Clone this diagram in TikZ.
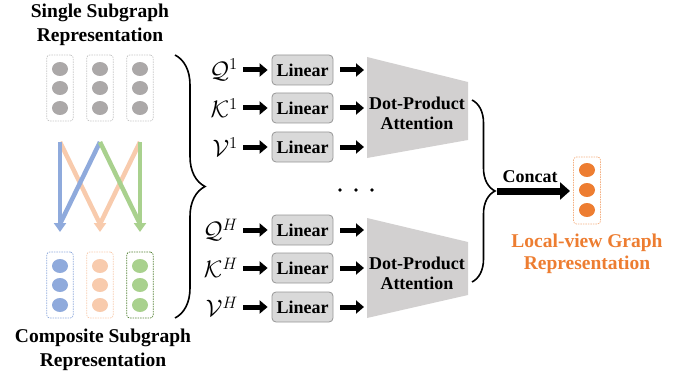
\documentclass[tikz,border=0pt]{standalone}
\usepackage{graphicx}
\usepackage{fontspec}
\setmainfont{Liberation Serif}
\usetikzlibrary{arrows.meta,decorations.pathreplacing,shapes.geometric}
\definecolor{cgray}{RGB}{171,168,168}
\definecolor{cblue}{RGB}{143,170,220}
\definecolor{corange}{RGB}{248,203,173}
\definecolor{cgreen}{RGB}{169,209,142}
\definecolor{cdgreen}{RGB}{84,130,53}
\definecolor{cout}{RGB}{237,125,49}
\definecolor{coutl}{RGB}{244,177,131}
\definecolor{trap}{RGB}{210,208,208}
\definecolor{linfill}{RGB}{217,217,217}
\definecolor{lindraw}{RGB}{150,150,150}
\newcommand{\mlab}[1]{\scalebox{1.15}{$#1$}}
\begin{document}
\begin{tikzpicture}[x=1pt,y=-1pt,
  title/.style={font=\fontsize{19.5}{23}\selectfont\bfseries, anchor=base, inner sep=0pt},
  lbl/.style={font=\fontsize{18}{21}\selectfont\bfseries, anchor=base, inner sep=0pt},
  mathlbl/.style={font=\fontsize{20.74}{25}\selectfont, anchor=east, inner sep=0pt},
  linbox/.style={draw=lindraw, line width=0.8pt, fill=linfill, rounded corners=4pt, minimum width=61pt, minimum height=30pt, inner sep=0pt, font=\fontsize{18}{21}\selectfont\bfseries},
  dotc/.style={ellipse, minimum width=16pt, minimum height=14pt, inner sep=0pt},
  col/.style={rounded corners=3pt, line width=0.7pt, dash pattern=on 1.5pt off 1pt, minimum width=26.5pt, minimum height=66pt, inner sep=0pt},
  bigarrow/.style={line width=5pt, -{Triangle[length=8pt,width=13pt]}},
  flowline/.style={line width=4.5pt},
  flowarrow/.style={line width=4.5pt, -{Triangle[length=9pt,width=12pt]}},
  bracestyle/.style={line width=1.6pt, decorate},
]
\useasboundingbox (0,0) rectangle (693,377);

% titles
\node[title] (t1a) at (100,18) {Single Subgraph};
\node[title] (t1b) at (100,42) {Representation};
\node[title] (t2a) at (103,342) {Composite Subgraph};
\node[title] (t2b) at (103,366) {Representation};

% top columns
\foreach \i/\x in {1/60,2/100,3/140}{
  \node[col, draw=gray!45] (top\i) at (\x,88) {};
  \foreach \j/\y in {1/69,2/88,3/108}{
    \node[dotc, fill=cgray] (tp\i\j) at (\x,\y) {};
  }
}
% bottom columns
\node[col, draw=cblue] (bot1) at (60,285) {};
\node[col, draw=corange] (bot2) at (100,285) {};
\node[col, draw=cdgreen] (bot3) at (140,285) {};
\foreach \j/\y in {1/266,2/285,3/305}{
  \node[dotc, fill=cblue] (bp1\j) at (60,\y) {};
  \node[dotc, fill=corange] (bp2\j) at (100,\y) {};
  \node[dotc, fill=cgreen] (bp3\j) at (140,\y) {};
}

% flow arrows
\coordinate (s1) at (60,142);
\coordinate (s2) at (100,142);
\coordinate (s3) at (140,142);
\coordinate (e1) at (60,232);
\coordinate (e2) at (100,232);
\coordinate (e3) at (140,232);
\coordinate (m1) at (60,224);
\coordinate (m2) at (100,224);
\coordinate (m3) at (140,224);
\draw[flowline, corange] (s1) -- (m2);
\draw[flowline, corange] (s3) -- (m2);
\draw[flowarrow, corange] (100,221) -- (e2);
\draw[flowarrow, cblue] (s1) -- (e1);
\draw[flowline, cblue] (s2) -- (m1);
\draw[flowline, cgreen] (s2) -- (m3);
\draw[flowarrow, cgreen] (s3) -- (e3);

% left brace
\coordinate (bra) at (175,55);
\coordinate (brb) at (175,318);
\draw[bracestyle, decoration={brace, amplitude=30pt}] (bra) -- (brb);

% rows
\foreach \r/\y/\sym/\sup in {a/70/Q/1, b/108/K/1, c/147/V/1, d/230/Q/H, e/268/K/H, f/307/V/H}{
  \node[mathlbl] (in\r) at (238,\y) {\mlab{\mathcal{\sym}^{\sup}}};
  \node[linbox] (lin\r) at (302.5,\y) {Linear};
  \coordinate (tr\r) at (364,\y);
  \draw[bigarrow] ([xshift=5pt]in\r.east) -- ([xshift=-4pt]lin\r.west);
  \draw[bigarrow] ([xshift=7pt]lin\r.east) -- (tr\r);
}

% trapezoids
\fill[trap] (367,57) -- (468,82) -- (468,140) -- (367,158) -- cycle;
\fill[trap] (367,218) -- (468,242) -- (468,295) -- (367,318) -- cycle;
\node[lbl] (dp1a) at (417,110) {Dot-Product};
\node[lbl] (dp1b) at (417,130) {Attention};
\node[lbl] (dp2a) at (417,269) {Dot-Product};
\node[lbl] (dp2b) at (417,289) {Attention};

% dots
\foreach \k/\x in {1/340,2/356,3/372}{
  \fill (\x,190) circle (1.8pt);
}

% right brace
\coordinate (brc) at (472,100);
\coordinate (brd) at (472,282);
\draw[bracestyle, decoration={brace, amplitude=23pt}] (brc) -- (brd);

% concat
\coordinate (ca) at (497,191);
\coordinate (cb) at (570,191);
\draw[line width=7pt, -{Triangle[length=10pt,width=17pt]}] (ca) -- (cb);
\node[lbl] (concat) at (530,182) {Concat};

% output
\node[col, draw=coutl, minimum width=27pt, minimum height=67pt] (out) at (587,190.5) {};
\foreach \j/\y in {1/170,2/190,3/210}{
  \node[dotc, fill=cout, minimum width=16pt, minimum height=14pt] (op\j) at (587,\y) {};
}
\node[title, text=cout] (lva) at (587,247) {Local-view Graph};
\node[title, text=cout] (lvb) at (587,269) {Representation};
\end{tikzpicture}
\end{document}
